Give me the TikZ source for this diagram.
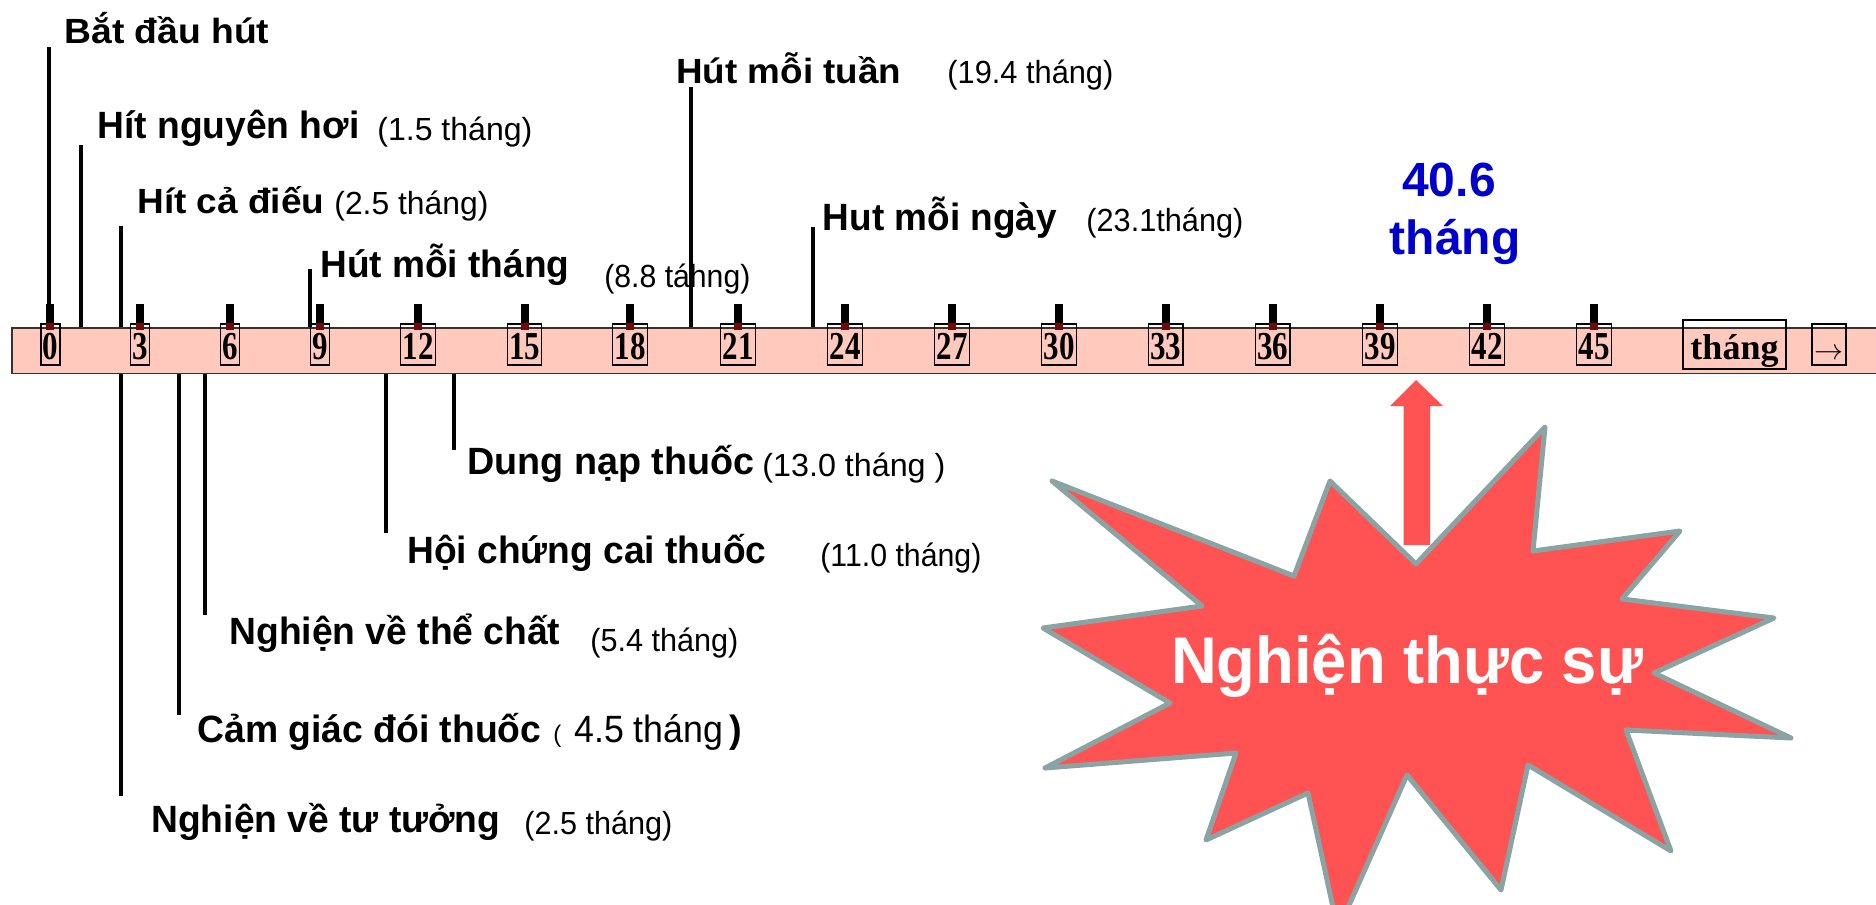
\documentclass[tikz,border=0pt]{standalone}
\usepackage{fontspec}
\usepackage{graphicx}
\setmainfont{Liberation Sans}
\newfontfamily\tnr{Liberation Serif}
\definecolor{barpink}{RGB}{255,201,189}
\definecolor{starred}{RGB}{255,82,82}
\definecolor{stargray}{RGB}{138,164,164}
\definecolor{numblue}{RGB}{0,0,204}
\definecolor{tickred}{RGB}{110,10,10}
\newcommand\bl[3]{\resizebox{#2}{\height}{\fontsize{#1}{#1}\selectfont\bfseries #3}}
\newcommand\rg[3]{\resizebox{#2}{\height}{\fontsize{#1}{#1}\selectfont #3}}
\newcommand\nb[1]{\scalebox{0.86}[1.1]{#1}}
\begin{document}
\begin{tikzpicture}[x=0.5pt,y=-0.5pt,
  lab/.style={anchor=base west, inner sep=0pt},
  vline/.style={line width=1.8pt},
  barbox/.style={draw=black!80, line width=0.75pt, fill=barpink, minimum width=937.5pt, minimum height=22.75pt, anchor=north west, inner sep=0pt},
  numbox/.style={draw=black, line width=0.7pt, inner xsep=0.9pt, inner ysep=0pt, text height=17.5pt, text depth=3pt, anchor=base, font=\tnr\bfseries\fontsize{18}{18}\selectfont},
  tickup/.style={line width=4pt, black},
  tickin/.style={line width=4pt, tickred},
  starshape/.style={fill=starred, draw=stargray, line width=2.5pt, line join=round},
]
\useasboundingbox (0,0) rectangle (1876,905);
\begin{scope}
\clip (0,0) rectangle (1876,905);

% timeline bar
\node[barbox] (bar) at (11,327) {};

% upper connector lines
\coordinate (t1) at (49,47);
\coordinate (t2) at (81,145);
\coordinate (t3) at (121,226);
\coordinate (t4) at (310,269);
\coordinate (t5) at (691,87);
\coordinate (t6) at (813,227);
\foreach \c in {t1,t2,t3,t4,t5,t6} \draw[vline] (\c) -- (\c |- bar.north);

% lower connector lines
\coordinate (b1) at (121,796);
\coordinate (b2) at (179,715);
\coordinate (b3) at (205,615);
\coordinate (b4) at (386,533);
\coordinate (b5) at (454,450);
\foreach \c in {b1,b2,b3,b4,b5} \draw[vline] (bar.south -| \c) -- (\c);

% number boxes and ticks
\foreach \v/\xx in {0/50.4,3/140,6/230,9/320,12/418,15/524.5,18/630,21/738,24/845,27/952,30/1059,33/1165.6,36/1272.8,39/1380,42/1487,45/1594}{
  \node[numbox] (n\v) at (\xx,359) {\nb{\v}};
  \draw[tickup] ([yshift=9.5pt]n\v.north) -- (n\v.north);
  \draw[tickin] (n\v.north) -- ([yshift=-3.5pt]n\v.north);
}
\node[draw=black, line width=0.7pt, inner xsep=3.75pt, inner ysep=0pt, text height=19.5pt, text depth=5pt, anchor=base, font=\tnr\bfseries\fontsize{18}{18}\selectfont] (unit) at (1734.5,359) {tháng};
\node[draw=black, line width=0.7pt, inner xsep=0pt, inner ysep=0pt, minimum width=17pt, text height=17.5pt, text depth=3pt, anchor=base] (arr) at (1829,359) {\resizebox{14.5pt}{!}{$\rightarrow$}};

% upper labels
\node[lab] (L1) at (64,43) {\bl{17.5pt}{102.5pt}{Bắt đầu hút}};
\node[lab] (L2) at (97,138.5) {\bl{19pt}{131pt}{Hít nguyên hơi}};
\node[lab] (L2n) at (377,140) {\rg{16pt}{77.5pt}{(1.5 tháng)}};
\node[lab] (L3) at (137,213) {\bl{17.5pt}{93.5pt}{Hít cả điếu}};
\node[lab] (L3n) at (334,214) {\rg{16pt}{77pt}{(2.5 tháng)}};
\node[lab] (L4) at (320,277) {\bl{19pt}{124.5pt}{Hút mỗi tháng}};
\node[lab] (L4n) at (604,287) {\rg{16pt}{73pt}{(8.8 táhng)}};
\node[lab] (L5) at (676,83) {\bl{17.5pt}{112.5pt}{Hút mỗi tuần}};
\node[lab] (L5n) at (947,83) {\rg{16pt}{83pt}{(19.4 tháng)}};
\node[lab] (L6) at (822.5,230) {\bl{19pt}{117pt}{Hut mỗi ngày}};
\node[lab] (L6n) at (1086,231) {\rg{16pt}{78.5pt}{(23.1tháng)}};

% lower labels
\node[lab] (D1) at (467,474) {\bl{19pt}{143.5pt}{Dung nạp thuốc}};
\node[lab] (D1n) at (762,476) {\rg{16pt}{91.5pt}{(13.0 tháng )}};
\node[lab] (D2) at (407,563) {\bl{19pt}{179.5pt}{Hội chứng cai thuốc}};
\node[lab] (D2n) at (820,566) {\rg{16pt}{80.5pt}{(11.0 tháng)}};
\node[lab] (D3) at (229,644) {\bl{19pt}{165.5pt}{Nghiện về thể chất}};
\node[lab] (D3n) at (590,651) {\rg{16pt}{74pt}{(5.4 tháng)}};
\node[lab] (D4) at (197,742) {\bl{19pt}{172pt}{Cảm giác đói thuốc}};
\node[lab, font=\fontsize{12}{12}\selectfont] (D4a) at (553,742) {(};
\node[lab] (D4n) at (574,742) {\rg{19pt}{74.5pt}{4.5 tháng}};
\node[lab, font=\fontsize{19}{19}\selectfont\bfseries] (D4b) at (729,742) {)};
\node[lab] (D5) at (151,832) {\bl{19pt}{174.5pt}{Nghiện về tư tưởng}};
\node[lab] (D5n) at (524,834) {\rg{16pt}{74pt}{(2.5 tháng)}};

% total
\node[anchor=base, inner sep=0pt, text=numblue, font=\fontsize{24}{24}\selectfont\bfseries] (tot1) at (1449,196.7) {40.6};
\node[anchor=base, inner sep=0pt, text=numblue, font=\fontsize{24}{24}\selectfont\bfseries] (tot2) at (1455,254) {tháng};

% star
\draw[starshape] (1545,427) -- (1533,551) -- (1680,531) -- (1622,599) -- (1774,618) -- (1654,673) -- (1791,738) -- (1626,730) -- (1671,851) -- (1528,765) -- (1501,890) -- (1407,775) -- (1338,930) -- (1308,793) -- (1206,840) -- (1236,753) -- (1045,768) -- (1170,703) -- (1043,628) -- (1202,606) -- (1052,481) -- (1294,576) -- (1330,481) -- (1416,564) -- cycle;
\node[lab, text=white] (startext) at (1170.6,683) {\bl{33pt}{236pt}{Nghiện thực sự}};

% up arrow
\fill[starred] (1416,380) -- (1443,406) -- (1430,406) -- (1430,545) -- (1403.5,545) -- (1403.5,406) -- (1390,406) -- cycle;
\end{scope}
\end{tikzpicture}
\end{document}
